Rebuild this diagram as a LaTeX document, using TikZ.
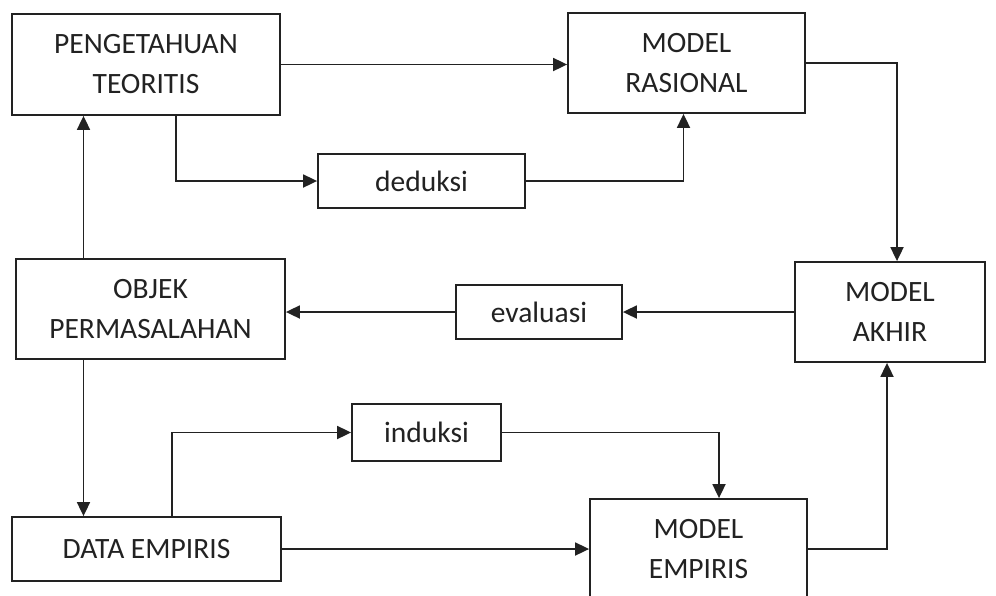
\documentclass[tikz,border=0pt]{standalone}
\usepackage{fontspec}
\setmainfont{Carlito}
\usetikzlibrary{arrows.meta}
\definecolor{ink}{HTML}{222222}
\tikzset{
  box/.style={draw=ink, line width=1.8pt, inner sep=0pt, align=center, text=ink,
    font=\fontsize{29.5pt}{40pt}\selectfont},
  arr/.style={draw=ink, line width=1.8pt, -{Triangle[length=14pt,width=13pt]}},
}
\begin{document}
\begin{tikzpicture}[x=1pt, y=-1pt]
\useasboundingbox [fill=white] (0, 0) rectangle (996, 595);

\node (pt) at (146, 64.5) [box, minimum width=268, minimum height=101] {PENGETAHUAN\\TEORITIS};
\node (mr) at (686.5, 63) [box, minimum width=237, minimum height=100] {MODEL\\RASIONAL};
\node (ded) at (421.5, 181) [box, minimum width=207, minimum height=54] {deduksi};
\node (ma) at (890, 312) [box, minimum width=190, minimum height=100] {MODEL\\AKHIR};
\node (eva) at (539, 312) [box, minimum width=166, minimum height=54] {evaluasi};
\node (ob) at (150.5, 309) [box, minimum width=269, minimum height=100] {OBJEK\\PERMASALAHAN};
\node (ind) at (426.5, 432.5) [box, minimum width=149, minimum height=57] {induksi};
\node (de) at (146.5, 549) [box, minimum width=269, minimum height=64] {DATA EMPIRIS};
\node (me) at (698.5, 549) [box, minimum width=217, minimum height=100] {MODEL\\EMPIRIS};

% upper part
\draw [arr] (pt.east) -- (pt.east -| mr.west);
\draw [arr] ([xshift=30pt]pt.south) |- (ded.west);
\draw [arr] (ded.east) -| ([xshift=-3pt]mr.south);
\draw [arr] (mr.east) -| ([xshift=7pt]ma.north);

% middle
\draw [arr] (ma.west) -- (eva.east);
\draw [arr] (eva.west) -- (eva.west -| ob.east);
\draw [arr] ([xshift=-67pt]ob.north) -- ([xshift=-67pt]ob.north |- pt.south);
\draw [arr] ([xshift=-67pt]ob.south) -- ([xshift=-67pt]ob.south |- de.north);

% lower part
\draw [arr] ([xshift=25.5pt]de.north) |- (ind.west);
\draw [arr] (ind.east) -| ([xshift=20.5pt]me.north);
\draw [arr] (de.east) -- (me.west);
\draw [arr] (me.east) -| ([xshift=-3pt]ma.south);
\end{tikzpicture}
\end{document}
